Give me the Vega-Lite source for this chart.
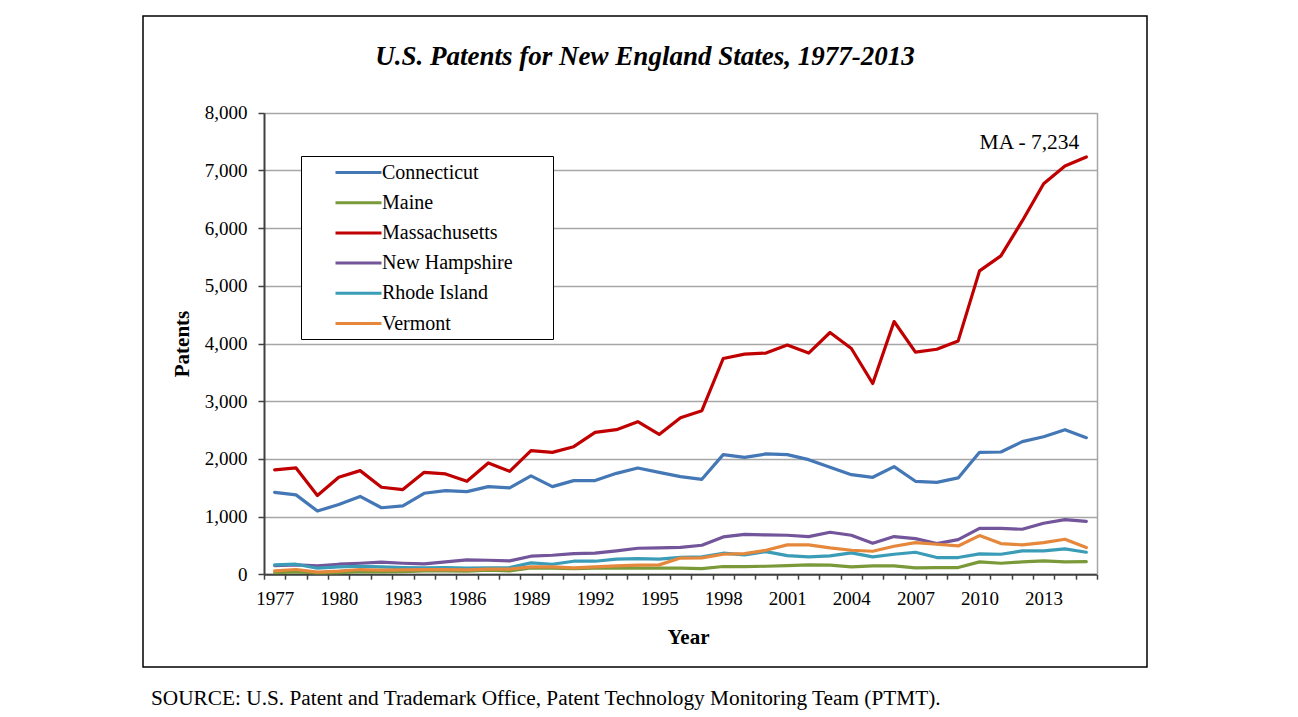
{
  "$schema": "https://vega.github.io/schema/vega-lite/v6.json",
  "padding": {"left": 142, "top": 15, "right": 0, "bottom": 0},
  "background": "white",
  "config": {
    "font": "Liberation Serif",
    "view": {"stroke": "#000000", "strokeWidth": 1.5},
    "title": {"color": "#000000", "font": "Liberation Serif"}
  },
  "title": {
    "text": "SOURCE: U.S. Patent and Trademark Office, Patent Technology Monitoring Team (PTMT).",
    "orient": "bottom", "anchor": "start", "frame": "group",
    "offset": 20, "dx": 8, "fontSize": 21.3, "fontWeight": "normal", "font": "Liberation Serif", "color": "#000000"
  },
  "vconcat": [
    {
      "width": 1004,
      "height": 651,
      "title": {
        "text": "U.S. Patents for New England States, 1977-2013",
        "orient": "top", "anchor": "middle", "frame": "group",
        "offset": -68, "baseline": "middle",
        "fontSize": 27, "fontStyle": "italic", "fontWeight": "bold", "font": "Liberation Serif", "color": "#000000"
      },
      "layer": [
        {
          "data": {"values": [
            {"year":1977,"state":"Connecticut","patents":1420},{"year":1978,"state":"Connecticut","patents":1375},{"year":1979,"state":"Connecticut","patents":1095},{"year":1980,"state":"Connecticut","patents":1207},{"year":1981,"state":"Connecticut","patents":1348},{"year":1982,"state":"Connecticut","patents":1152},{"year":1983,"state":"Connecticut","patents":1184},{"year":1984,"state":"Connecticut","patents":1403},{"year":1985,"state":"Connecticut","patents":1449},{"year":1986,"state":"Connecticut","patents":1432},
            {"year":1987,"state":"Connecticut","patents":1519},{"year":1988,"state":"Connecticut","patents":1496},{"year":1989,"state":"Connecticut","patents":1704},{"year":1990,"state":"Connecticut","patents":1519},{"year":1991,"state":"Connecticut","patents":1623},{"year":1992,"state":"Connecticut","patents":1623},{"year":1993,"state":"Connecticut","patents":1749},{"year":1994,"state":"Connecticut","patents":1842},{"year":1995,"state":"Connecticut","patents":1766},{"year":1996,"state":"Connecticut","patents":1692},
            {"year":1997,"state":"Connecticut","patents":1645},{"year":1998,"state":"Connecticut","patents":2073},{"year":1999,"state":"Connecticut","patents":2026},{"year":2000,"state":"Connecticut","patents":2085},{"year":2001,"state":"Connecticut","patents":2073},{"year":2002,"state":"Connecticut","patents":1986},{"year":2003,"state":"Connecticut","patents":1853},{"year":2004,"state":"Connecticut","patents":1726},{"year":2005,"state":"Connecticut","patents":1680},{"year":2006,"state":"Connecticut","patents":1865},
            {"year":2007,"state":"Connecticut","patents":1611},{"year":2008,"state":"Connecticut","patents":1593},{"year":2009,"state":"Connecticut","patents":1669},{"year":2010,"state":"Connecticut","patents":2113},{"year":2011,"state":"Connecticut","patents":2119},{"year":2012,"state":"Connecticut","patents":2298},{"year":2013,"state":"Connecticut","patents":2384},{"year":2014,"state":"Connecticut","patents":2506},{"year":2015,"state":"Connecticut","patents":2367},

            {"year":1977,"state":"Maine","patents":29},{"year":1978,"state":"Maine","patents":40},{"year":1979,"state":"Maine","patents":23},{"year":1980,"state":"Maine","patents":29},{"year":1981,"state":"Maine","patents":46},{"year":1982,"state":"Maine","patents":40},{"year":1983,"state":"Maine","patents":46},{"year":1984,"state":"Maine","patents":58},{"year":1985,"state":"Maine","patents":58},{"year":1986,"state":"Maine","patents":52},
            {"year":1987,"state":"Maine","patents":69},{"year":1988,"state":"Maine","patents":58},{"year":1989,"state":"Maine","patents":110},{"year":1990,"state":"Maine","patents":104},{"year":1991,"state":"Maine","patents":98},{"year":1992,"state":"Maine","patents":104},{"year":1993,"state":"Maine","patents":110},{"year":1994,"state":"Maine","patents":104},{"year":1995,"state":"Maine","patents":104},{"year":1996,"state":"Maine","patents":105},
            {"year":1997,"state":"Maine","patents":98},{"year":1998,"state":"Maine","patents":133},{"year":1999,"state":"Maine","patents":133},{"year":2000,"state":"Maine","patents":138},{"year":2001,"state":"Maine","patents":150},{"year":2002,"state":"Maine","patents":162},{"year":2003,"state":"Maine","patents":156},{"year":2004,"state":"Maine","patents":127},{"year":2005,"state":"Maine","patents":144},{"year":2006,"state":"Maine","patents":144},
            {"year":2007,"state":"Maine","patents":110},{"year":2008,"state":"Maine","patents":115},{"year":2009,"state":"Maine","patents":115},{"year":2010,"state":"Maine","patents":213},{"year":2011,"state":"Maine","patents":190},{"year":2012,"state":"Maine","patents":213},{"year":2013,"state":"Maine","patents":231},{"year":2014,"state":"Maine","patents":213},{"year":2015,"state":"Maine","patents":219},

            {"year":1977,"state":"Massachusetts","patents":1808},{"year":1978,"state":"Massachusetts","patents":1843},{"year":1979,"state":"Massachusetts","patents":1363},{"year":1980,"state":"Massachusetts","patents":1680},{"year":1981,"state":"Massachusetts","patents":1796},{"year":1982,"state":"Massachusetts","patents":1507},{"year":1983,"state":"Massachusetts","patents":1467},{"year":1984,"state":"Massachusetts","patents":1766},{"year":1985,"state":"Massachusetts","patents":1738},{"year":1986,"state":"Massachusetts","patents":1611},
            {"year":1987,"state":"Massachusetts","patents":1929},{"year":1988,"state":"Massachusetts","patents":1784},{"year":1989,"state":"Massachusetts","patents":2142},{"year":1990,"state":"Massachusetts","patents":2113},{"year":1991,"state":"Massachusetts","patents":2211},{"year":1992,"state":"Massachusetts","patents":2459},{"year":1993,"state":"Massachusetts","patents":2506},{"year":1994,"state":"Massachusetts","patents":2644},{"year":1995,"state":"Massachusetts","patents":2424},{"year":1996,"state":"Massachusetts","patents":2713},
            {"year":1997,"state":"Massachusetts","patents":2835},{"year":1998,"state":"Massachusetts","patents":3740},{"year":1999,"state":"Massachusetts","patents":3816},{"year":2000,"state":"Massachusetts","patents":3834},{"year":2001,"state":"Massachusetts","patents":3972},{"year":2002,"state":"Massachusetts","patents":3834},{"year":2003,"state":"Massachusetts","patents":4191},{"year":2004,"state":"Massachusetts","patents":3913},{"year":2005,"state":"Massachusetts","patents":3307},{"year":2006,"state":"Massachusetts","patents":4381},
            {"year":2007,"state":"Massachusetts","patents":3850},{"year":2008,"state":"Massachusetts","patents":3900},{"year":2009,"state":"Massachusetts","patents":4045},{"year":2010,"state":"Massachusetts","patents":5259},{"year":2011,"state":"Massachusetts","patents":5519},{"year":2012,"state":"Massachusetts","patents":6125},{"year":2013,"state":"Massachusetts","patents":6771},{"year":2014,"state":"Massachusetts","patents":7077},{"year":2015,"state":"Massachusetts","patents":7234},

            {"year":1977,"state":"New Hampshire","patents":150},{"year":1978,"state":"New Hampshire","patents":160},{"year":1979,"state":"New Hampshire","patents":144},{"year":1980,"state":"New Hampshire","patents":173},{"year":1981,"state":"New Hampshire","patents":190},{"year":1982,"state":"New Hampshire","patents":208},{"year":1983,"state":"New Hampshire","patents":190},{"year":1984,"state":"New Hampshire","patents":179},{"year":1985,"state":"New Hampshire","patents":213},{"year":1986,"state":"New Hampshire","patents":248},
            {"year":1987,"state":"New Hampshire","patents":242},{"year":1988,"state":"New Hampshire","patents":231},{"year":1989,"state":"New Hampshire","patents":312},{"year":1990,"state":"New Hampshire","patents":329},{"year":1991,"state":"New Hampshire","patents":358},{"year":1992,"state":"New Hampshire","patents":364},{"year":1993,"state":"New Hampshire","patents":404},{"year":1994,"state":"New Hampshire","patents":450},{"year":1995,"state":"New Hampshire","patents":456},{"year":1996,"state":"New Hampshire","patents":464},
            {"year":1997,"state":"New Hampshire","patents":502},{"year":1998,"state":"New Hampshire","patents":646},{"year":1999,"state":"New Hampshire","patents":692},{"year":2000,"state":"New Hampshire","patents":681},{"year":2001,"state":"New Hampshire","patents":675},{"year":2002,"state":"New Hampshire","patents":652},{"year":2003,"state":"New Hampshire","patents":727},{"year":2004,"state":"New Hampshire","patents":675},{"year":2005,"state":"New Hampshire","patents":537},{"year":2006,"state":"New Hampshire","patents":652},
            {"year":2007,"state":"New Hampshire","patents":617},{"year":2008,"state":"New Hampshire","patents":531},{"year":2009,"state":"New Hampshire","patents":600},{"year":2010,"state":"New Hampshire","patents":796},{"year":2011,"state":"New Hampshire","patents":796},{"year":2012,"state":"New Hampshire","patents":779},{"year":2013,"state":"New Hampshire","patents":883},{"year":2014,"state":"New Hampshire","patents":946},{"year":2015,"state":"New Hampshire","patents":917},

            {"year":1977,"state":"Rhode Island","patents":162},{"year":1978,"state":"Rhode Island","patents":173},{"year":1979,"state":"Rhode Island","patents":104},{"year":1980,"state":"Rhode Island","patents":127},{"year":1981,"state":"Rhode Island","patents":138},{"year":1982,"state":"Rhode Island","patents":127},{"year":1983,"state":"Rhode Island","patents":115},{"year":1984,"state":"Rhode Island","patents":110},{"year":1985,"state":"Rhode Island","patents":115},{"year":1986,"state":"Rhode Island","patents":104},
            {"year":1987,"state":"Rhode Island","patents":110},{"year":1988,"state":"Rhode Island","patents":115},{"year":1989,"state":"Rhode Island","patents":196},{"year":1990,"state":"Rhode Island","patents":173},{"year":1991,"state":"Rhode Island","patents":225},{"year":1992,"state":"Rhode Island","patents":225},{"year":1993,"state":"Rhode Island","patents":260},{"year":1994,"state":"Rhode Island","patents":271},{"year":1995,"state":"Rhode Island","patents":260},{"year":1996,"state":"Rhode Island","patents":292},
            {"year":1997,"state":"Rhode Island","patents":300},{"year":1998,"state":"Rhode Island","patents":364},{"year":1999,"state":"Rhode Island","patents":335},{"year":2000,"state":"Rhode Island","patents":392},{"year":2001,"state":"Rhode Island","patents":323},{"year":2002,"state":"Rhode Island","patents":300},{"year":2003,"state":"Rhode Island","patents":317},{"year":2004,"state":"Rhode Island","patents":369},{"year":2005,"state":"Rhode Island","patents":300},{"year":2006,"state":"Rhode Island","patents":346},
            {"year":2007,"state":"Rhode Island","patents":381},{"year":2008,"state":"Rhode Island","patents":289},{"year":2009,"state":"Rhode Island","patents":289},{"year":2010,"state":"Rhode Island","patents":352},{"year":2011,"state":"Rhode Island","patents":346},{"year":2012,"state":"Rhode Island","patents":404},{"year":2013,"state":"Rhode Island","patents":404},{"year":2014,"state":"Rhode Island","patents":439},{"year":2015,"state":"Rhode Island","patents":381},

            {"year":1977,"state":"Vermont","patents":58},{"year":1978,"state":"Vermont","patents":81},{"year":1979,"state":"Vermont","patents":35},{"year":1980,"state":"Vermont","patents":52},{"year":1981,"state":"Vermont","patents":81},{"year":1982,"state":"Vermont","patents":69},{"year":1983,"state":"Vermont","patents":75},{"year":1984,"state":"Vermont","patents":81},{"year":1985,"state":"Vermont","patents":81},{"year":1986,"state":"Vermont","patents":75},
            {"year":1987,"state":"Vermont","patents":87},{"year":1988,"state":"Vermont","patents":87},{"year":1989,"state":"Vermont","patents":127},{"year":1990,"state":"Vermont","patents":127},{"year":1991,"state":"Vermont","patents":110},{"year":1992,"state":"Vermont","patents":127},{"year":1993,"state":"Vermont","patents":144},{"year":1994,"state":"Vermont","patents":156},{"year":1995,"state":"Vermont","patents":162},{"year":1996,"state":"Vermont","patents":280},
            {"year":1997,"state":"Vermont","patents":283},{"year":1998,"state":"Vermont","patents":346},{"year":1999,"state":"Vermont","patents":358},{"year":2000,"state":"Vermont","patents":415},{"year":2001,"state":"Vermont","patents":508},{"year":2002,"state":"Vermont","patents":508},{"year":2003,"state":"Vermont","patents":456},{"year":2004,"state":"Vermont","patents":415},{"year":2005,"state":"Vermont","patents":398},{"year":2006,"state":"Vermont","patents":485},
            {"year":2007,"state":"Vermont","patents":548},{"year":2008,"state":"Vermont","patents":519},{"year":2009,"state":"Vermont","patents":490},{"year":2010,"state":"Vermont","patents":669},{"year":2011,"state":"Vermont","patents":531},{"year":2012,"state":"Vermont","patents":508},{"year":2013,"state":"Vermont","patents":548},{"year":2014,"state":"Vermont","patents":606},{"year":2015,"state":"Vermont","patents":462}
          ]},
          "mark": {"type": "line", "strokeWidth": 3.2, "strokeJoin": "round", "strokeCap": "round"},
          "encoding": {
            "x": {
              "field": "year", "type": "quantitative",
              "scale": {"domain": [1976.5, 2015.5], "range": [121, 954], "nice": false, "zero": false},
              "axis": {
                "orient": "bottom", "offset": -92.8,
                "values": [1976.5,1977.5,1978.5,1979.5,1980.5,1981.5,1982.5,1983.5,1984.5,1985.5,1986.5,1987.5,1988.5,1989.5,1990.5,1991.5,1992.5,1993.5,1994.5,1995.5,1996.5,1997.5,1998.5,1999.5,2000.5,2001.5,2002.5,2003.5,2004.5,2005.5,2006.5,2007.5,2008.5,2009.5,2010.5,2011.5,2012.5,2013.5,2014.5,2015.5],
                "labelExpr": "((datum.value + 0.5 - 1977) % 3 == 0 && datum.value < 2014) ? format(datum.value + 0.5, 'd') : ''",
                "labelOffset": 10.68, "labelOverlap": false, "labelFlush": false, "labelBound": false,
                "labelFont": "Liberation Serif", "labelFontSize": 19, "labelColor": "#000000", "labelPadding": 10,
                "ticks": true, "tickSize": 5, "tickColor": "#404040", "tickWidth": 1.5,
                "domainColor": "#404040", "domainWidth": 2,
                "grid": false,
                "title": "Year", "titleFont": "Liberation Serif", "titleFontSize": 21, "titleFontWeight": "bold", "titleColor": "#000000", "titlePadding": 18, "titleX": 545
              }
            },
            "y": {
              "field": "patents", "type": "quantitative",
              "scale": {"domain": [0, 8000], "range": [558.2, 96.8], "nice": false, "zero": true},
              "axis": {
                "orient": "left", "offset": -121,
                "values": [0,1000,2000,3000,4000,5000,6000,7000,8000], "format": ",d",
                "labelFont": "Liberation Serif", "labelFontSize": 19, "labelColor": "#000000", "labelPadding": 11,
                "tickSize": 6, "tickColor": "#404040", "tickWidth": 1.5,
                "domainColor": "#404040", "domainWidth": 2,
                "grid": true, "gridColor": "#A6A6A6", "gridWidth": 1.5,
                "title": "Patents", "titleFont": "Liberation Serif", "titleFontSize": 21, "titleFontWeight": "bold", "titleColor": "#000000", "titlePadding": 12
              }
            },
            "color": {
              "field": "state", "type": "nominal",
              "scale": {
                "domain": ["Connecticut", "Maine", "Massachusetts", "New Hampshire", "Rhode Island", "Vermont"],
                "range": ["#4477B5", "#7A9A3A", "#C00000", "#72559A", "#3B9CB8", "#E5883C"]
              },
              "legend": {
                "orient": "none", "legendX": 158, "legendY": 140,
                "title": " ", "titleOrient": "right", "titlePadding": 35, "titleFontSize": 10,
                "strokeColor": "#000000", "fillColor": "#FFFFFF", "padding": 5,
                "symbolType": "M-2.3,0H2.3", "symbolSize": 400, "symbolStrokeWidth": 3, "symbolOffset": 41,
                "labelFont": "Liberation Serif", "labelFontSize": 20, "labelColor": "#000000", "labelOffset": 12,
                "rowPadding": 8.2
              }
            }
          }
        },
        {
          "data": {"values": [{"year": 2015, "patents": 7234, "label": "MA - 7,234"}]},
          "mark": {"type": "text", "align": "right", "baseline": "alphabetic", "dx": -7, "dy": -8, "fontSize": 21.5, "font": "Liberation Serif", "color": "#000000"},
          "encoding": {
            "x": {"field": "year", "type": "quantitative", "axis": null},
            "y": {
              "field": "patents", "type": "quantitative",
              "axis": {"orient": "right", "offset": -50, "labels": false, "ticks": false, "grid": false, "title": null, "domainColor": "#A6A6A6", "domainWidth": 1.5}
            },
            "text": {"field": "label"}
          }
        }
      ],
      "resolve": {"axis": {"x": "independent", "y": "independent"}}
    }
  ]
}
